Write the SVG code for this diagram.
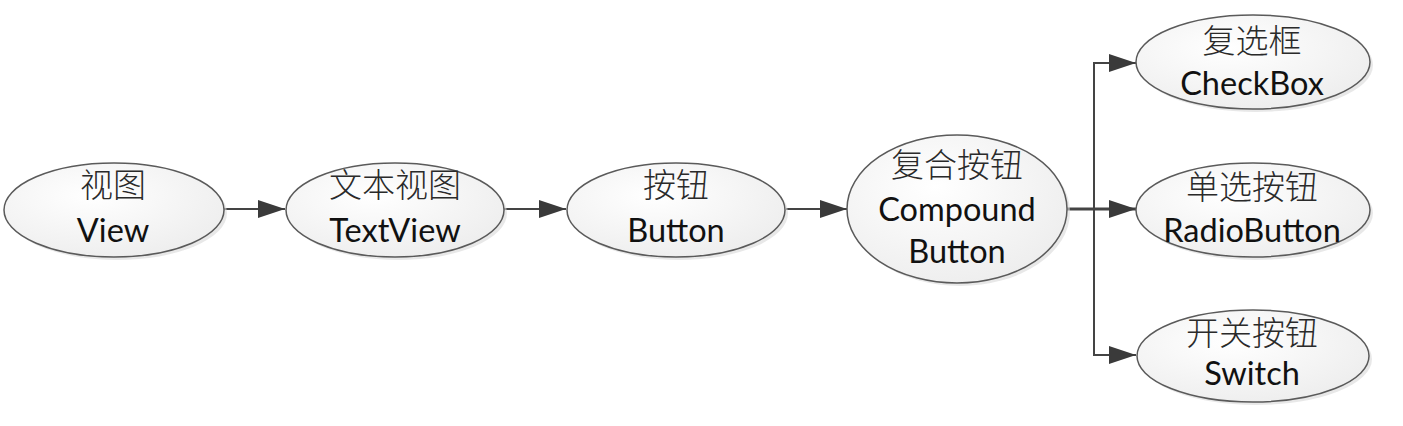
<svg xmlns="http://www.w3.org/2000/svg" width="1403" height="426" viewBox="0 0 1403 426">
<style>
.node ellipse.body{fill:url(#g);stroke:#5a5a5a;stroke-width:1.5}
.node ellipse.shadow{fill:#d8d8d8;opacity:0.6}
.zh{font-family:"Noto Sans CJK SC",sans-serif;font-size:33px;font-weight:300;fill:#2a2a2a;text-anchor:middle}
.en{font-family:Lato,"Liberation Sans",sans-serif;font-size:32.5px;fill:#111;text-anchor:middle}
.edge{fill:none;stroke:#444;stroke-width:2}
</style>
<defs>
<radialGradient id="g" cx="0.4" cy="0.35" r="0.75">
<stop offset="0" stop-color="#ffffff"/>
<stop offset="1" stop-color="#ececec"/>
</radialGradient>
<marker id="ah" markerWidth="27" markerHeight="18" refX="27" refY="9" orient="auto" markerUnits="userSpaceOnUse">
<path d="M0,0 L27,9 L0,18 Z" fill="#3a3a3a"/>
</marker>
</defs>
<rect width="1403" height="426" fill="#ffffff"/>
<g id="edges">
<path class="edge" d="M224,209 H285" marker-end="url(#ah)"/>
<path class="edge" d="M504,209 H566" marker-end="url(#ah)"/>
<path class="edge" d="M786,209 H847" marker-end="url(#ah)"/>
<path class="edge" d="M1067,209 H1136" marker-end="url(#ah)" style="stroke-width:3"/>
<path class="edge" d="M1094,209 V63 H1136" marker-end="url(#ah)"/>
<path class="edge" d="M1094,209 V355 H1136" marker-end="url(#ah)"/>
</g>
<g id="view" class="node">
<ellipse class="shadow" cx="117" cy="213" rx="110" ry="47"/>
<ellipse class="body" cx="114" cy="210" rx="110" ry="47"/>
<text class="zh" x="113" y="197">视图</text>
<text class="en" x="113" y="242">View</text>
</g>
<g id="textview" class="node">
<ellipse class="shadow" cx="398" cy="213" rx="109" ry="47"/>
<ellipse class="body" cx="395" cy="210" rx="109" ry="47"/>
<text class="zh" x="395" y="197">文本视图</text>
<text class="en" x="395" y="242">TextView</text>
</g>
<g id="button" class="node">
<ellipse class="shadow" cx="679" cy="213" rx="109" ry="47"/>
<ellipse class="body" cx="676" cy="210" rx="109" ry="47"/>
<text class="zh" x="676" y="197">按钮</text>
<text class="en" x="676" y="242">Button</text>
</g>
<g id="compound" class="node">
<ellipse class="shadow" cx="960" cy="212" rx="110" ry="74"/>
<ellipse class="body" cx="957" cy="209" rx="110" ry="74"/>
<text class="zh" x="957" y="177">复合按钮</text>
<text class="en" x="957" y="221">Compound</text>
<text class="en" x="957" y="263">Button</text>
</g>
<g id="checkbox" class="node">
<ellipse class="shadow" cx="1256" cy="65" rx="117" ry="47"/>
<ellipse class="body" cx="1253" cy="62" rx="117" ry="47"/>
<text class="zh" x="1252" y="53">复选框</text>
<text class="en" x="1252" y="95">CheckBox</text>
</g>
<g id="radiobutton" class="node">
<ellipse class="shadow" cx="1256" cy="213" rx="117" ry="47"/>
<ellipse class="body" cx="1253" cy="210" rx="117" ry="47"/>
<text class="zh" x="1252" y="199">单选按钮</text>
<text class="en" x="1252" y="242">RadioButton</text>
</g>
<g id="switch" class="node">
<ellipse class="shadow" cx="1256" cy="359" rx="116" ry="46"/>
<ellipse class="body" cx="1253" cy="356" rx="116" ry="46"/>
<text class="zh" x="1252" y="345">开关按钮</text>
<text class="en" x="1252" y="385">Switch</text>
</g>
</svg>
